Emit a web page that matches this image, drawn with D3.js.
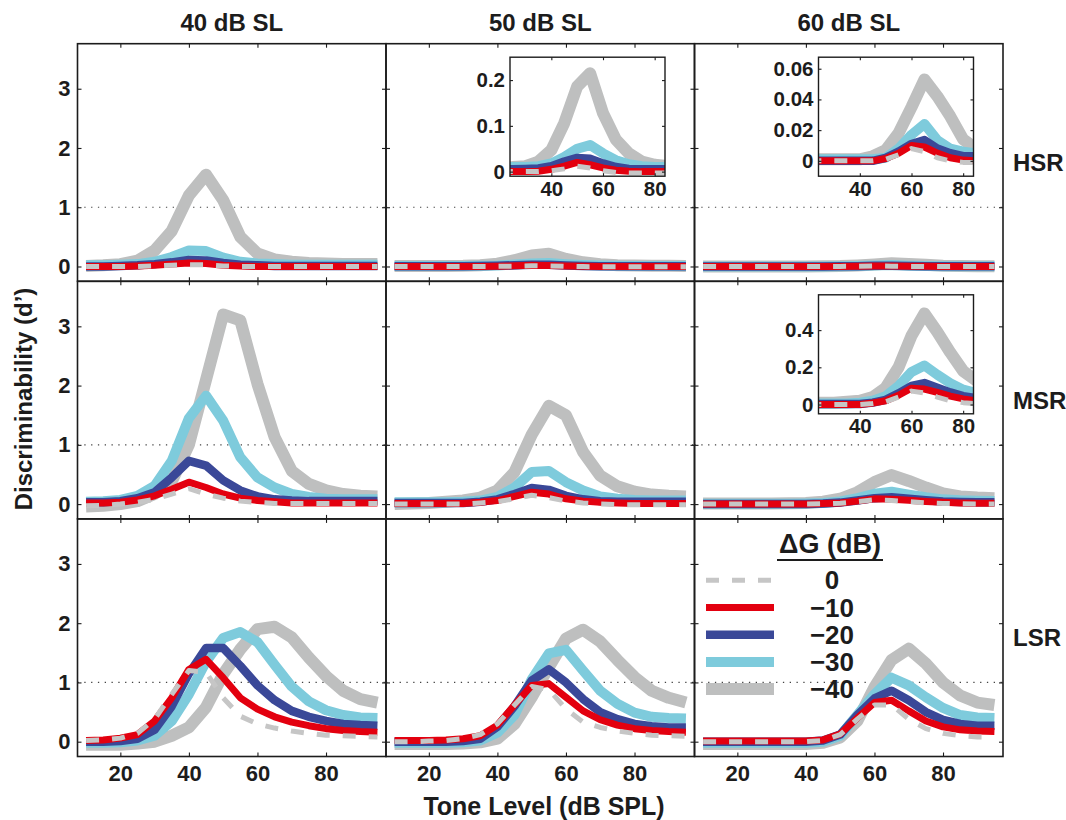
<!doctype html>
<html>
<head>
<meta charset="utf-8">
<title>Discriminability vs tone level</title>
<script src="https://cdn.jsdelivr.net/npm/d3@7"></script>
<style>
  body { margin: 0; background: #fff; }
  svg { display: block; font-family: "Liberation Sans", Arial, Helvetica, sans-serif; font-weight: bold; }
</style>
</head>
<body>
<svg id="chart"></svg>
<script>
// tone levels (dB SPL), shared by every curve
const levels = [10, 15, 20, 25, 30, 35, 40, 45, 50, 55, 60, 65, 70, 75, 80, 85, 90, 95];
const slLabels = ["40 dB SL", "50 dB SL", "60 dB SL"];
const fiberLabels = ["HSR", "MSR", "LSR"];
const gainLabels = ["0", "\u221210", "\u221220", "\u221230", "\u221240"];
const yTicks = [0, 1, 2, 3];
const xTicks = [20, 40, 60, 80];

// each panel: [dG=0, -10, -20, -30, -40]
const hsr40 = [
  [0, 0, 0, 0, 0.01, 0.02, 0.03, 0.03, 0.01, 0, 0, 0, 0, 0, 0, 0, 0, 0],
  [0, 0, 0, 0.01, 0.02, 0.04, 0.06, 0.05, 0.02, 0.01, 0, 0, 0, 0, 0, 0, 0, 0],
  [0, 0, 0.01, 0.02, 0.04, 0.07, 0.11, 0.1, 0.06, 0.03, 0.02, 0.01, 0.01, 0.01, 0.01, 0.01, 0.01, 0.01],
  [0.02, 0.02, 0.03, 0.04, 0.08, 0.16, 0.27, 0.26, 0.15, 0.08, 0.05, 0.04, 0.03, 0.03, 0.03, 0.03, 0.03, 0.03],
  [0.01, 0.02, 0.04, 0.1, 0.27, 0.6, 1.2, 1.55, 1.12, 0.5, 0.22, 0.12, 0.08, 0.06, 0.05, 0.04, 0.04, 0.04]
];
const hsr50 = [
  [0, 0, 0, 0, 0, 0, 0.002, 0.006, 0.012, 0.008, 0.002, -0.002, -0.003, -0.003, -0.003, -0.003, -0.003, -0.003],
  [0, 0, 0, 0, 0, 0.001, 0.005, 0.012, 0.02, 0.015, 0.008, 0.003, 0.001, 0, 0, 0, 0, 0],
  [0.005, 0.005, 0.005, 0.005, 0.006, 0.007, 0.012, 0.022, 0.03, 0.028, 0.018, 0.01, 0.006, 0.005, 0.005, 0.005, 0.005, 0.005],
  [0.01, 0.01, 0.01, 0.01, 0.01, 0.012, 0.018, 0.032, 0.05, 0.058, 0.04, 0.025, 0.016, 0.012, 0.01, 0.01, 0.01, 0.01],
  [0.008, 0.008, 0.009, 0.01, 0.012, 0.022, 0.047, 0.106, 0.186, 0.215, 0.128, 0.07, 0.04, 0.022, 0.015, 0.012, 0.011, 0.01]
];
const hsr60 = [
  [0, 0, 0, 0, 0, 0, 0, 0, 0.001, 0.004, 0.008, 0.006, 0.002, 0, -0.001, -0.001, -0.001, -0.001],
  [0, 0, 0, 0, 0, 0, 0, 0, 0.0015, 0.005, 0.01, 0.009, 0.005, 0.002, 0.0005, 0, 0, 0],
  [0, 0, 0, 0, 0, 0, 0, 0, 0.002, 0.006, 0.011, 0.0135, 0.008, 0.005, 0.003, 0.003, 0.003, 0.003],
  [0.001, 0.001, 0.001, 0.001, 0.001, 0.001, 0.001, 0.001, 0.002, 0.008, 0.017, 0.024, 0.0135, 0.008, 0.006, 0.005, 0.005, 0.005],
  [0.001, 0.001, 0.001, 0.001, 0.001, 0.001, 0.001, 0.003, 0.007, 0.018, 0.035, 0.053, 0.042, 0.029, 0.014, 0.008, 0.006, 0.005]
];
const msr40 = [
  [-0.03, -0.02, 0, 0.03, 0.08, 0.17, 0.26, 0.17, 0.1, 0.05, 0.03, 0.01, 0.01, 0.01, 0.01, 0.01, 0.01, 0.01],
  [0.02, 0.02, 0.03, 0.07, 0.14, 0.25, 0.37, 0.28, 0.17, 0.1, 0.06, 0.04, 0.02, 0.02, 0.02, 0.02, 0.02, 0.02],
  [0.03, 0.03, 0.05, 0.1, 0.2, 0.45, 0.73, 0.65, 0.4, 0.23, 0.13, 0.08, 0.06, 0.05, 0.05, 0.05, 0.05, 0.05],
  [0.04, 0.05, 0.07, 0.14, 0.31, 0.73, 1.45, 1.83, 1.41, 0.79, 0.45, 0.28, 0.17, 0.12, 0.09, 0.08, 0.08, 0.08],
  [-0.04, -0.03, 0, 0.05, 0.17, 0.38, 1.0, 2.1, 3.2, 3.1, 2.03, 1.13, 0.56, 0.34, 0.23, 0.17, 0.14, 0.13]
];
const msr50 = [
  [0, 0, 0, 0, 0, 0.02, 0.04, 0.09, 0.15, 0.11, 0.05, 0.02, 0, -0.01, -0.01, -0.01, -0.01, -0.01],
  [0.01, 0.01, 0.01, 0.01, 0.01, 0.03, 0.06, 0.13, 0.2, 0.17, 0.09, 0.05, 0.03, 0.02, 0.01, 0.01, 0.01, 0.01],
  [0.02, 0.02, 0.02, 0.02, 0.02, 0.04, 0.08, 0.17, 0.27, 0.24, 0.14, 0.08, 0.05, 0.04, 0.04, 0.04, 0.04, 0.04],
  [0.03, 0.03, 0.03, 0.03, 0.04, 0.06, 0.12, 0.28, 0.54, 0.56, 0.37, 0.23, 0.13, 0.09, 0.07, 0.06, 0.06, 0.06],
  [0, 0.01, 0.02, 0.04, 0.06, 0.11, 0.23, 0.54, 1.17, 1.66, 1.5, 0.88, 0.48, 0.3, 0.21, 0.16, 0.14, 0.13]
];
const msr60 = [
  [0, 0, 0, 0, 0, 0, 0, 0.005, 0.015, 0.04, 0.072, 0.062, 0.04, 0.02, 0.01, 0.005, 0.003, 0.003],
  [0, 0, 0, 0, 0, 0, 0, 0.008, 0.02, 0.05, 0.088, 0.083, 0.065, 0.045, 0.03, 0.02, 0.015, 0.015],
  [0.003, 0.003, 0.003, 0.003, 0.003, 0.003, 0.003, 0.01, 0.025, 0.06, 0.1, 0.115, 0.09, 0.065, 0.045, 0.035, 0.03, 0.03],
  [0.005, 0.005, 0.005, 0.005, 0.005, 0.005, 0.01, 0.02, 0.045, 0.1, 0.175, 0.21, 0.16, 0.115, 0.08, 0.063, 0.055, 0.05],
  [0.01, 0.01, 0.01, 0.01, 0.01, 0.015, 0.02, 0.04, 0.09, 0.2, 0.37, 0.49, 0.39, 0.28, 0.18, 0.13, 0.11, 0.1]
];
const lsr40 = [
  [0.02, 0.03, 0.06, 0.14, 0.38, 0.8, 1.2, 1.17, 0.74, 0.43, 0.3, 0.23, 0.18, 0.14, 0.11, 0.1, 0.09, 0.08],
  [0.02, 0.03, 0.06, 0.12, 0.35, 0.74, 1.22, 1.39, 1.08, 0.74, 0.55, 0.42, 0.33, 0.27, 0.22, 0.19, 0.17, 0.16],
  [0, 0, 0.01, 0.05, 0.2, 0.6, 1.15, 1.58, 1.58, 1.28, 0.95, 0.7, 0.52, 0.42, 0.35, 0.3, 0.28, 0.27],
  [-0.02, -0.02, -0.01, 0.02, 0.1, 0.35, 0.8, 1.35, 1.75, 1.85, 1.68, 1.3, 0.93, 0.68, 0.53, 0.45, 0.41, 0.4],
  [-0.05, -0.05, -0.05, -0.03, 0, 0.1, 0.24, 0.58, 1.14, 1.56, 1.9, 1.94, 1.76, 1.42, 1.11, 0.86, 0.72, 0.66]
];
const lsr50 = [
  [0, 0, 0.01, 0.02, 0.05, 0.12, 0.3, 0.62, 0.93, 0.88, 0.55, 0.33, 0.24, 0.18, 0.14, 0.11, 0.1, 0.09],
  [0.02, 0.02, 0.02, 0.03, 0.05, 0.1, 0.28, 0.62, 0.95, 0.98, 0.75, 0.52, 0.37, 0.28, 0.22, 0.19, 0.17, 0.16],
  [0, 0, 0, 0, 0.01, 0.05, 0.25, 0.6, 1.03, 1.22, 1.0, 0.72, 0.5, 0.38, 0.3, 0.26, 0.24, 0.24],
  [-0.02, -0.02, -0.02, -0.02, -0.01, 0.02, 0.15, 0.45, 1.05, 1.49, 1.55, 1.2, 0.86, 0.64, 0.49, 0.42, 0.4, 0.39],
  [-0.04, -0.04, -0.04, -0.04, -0.03, -0.01, 0.05, 0.3, 0.75, 1.26, 1.74, 1.89, 1.69, 1.38, 1.09, 0.86, 0.74, 0.66]
];
const lsr60 = [
  [0, 0, 0, 0, 0, 0, 0, 0.02, 0.12, 0.38, 0.62, 0.62, 0.38, 0.22, 0.14, 0.1, 0.08, 0.08],
  [0.01, 0.01, 0.01, 0.01, 0.01, 0.01, 0.01, 0.03, 0.13, 0.4, 0.66, 0.7, 0.52, 0.35, 0.25, 0.2, 0.18, 0.17],
  [0, 0, 0, 0, 0, 0, 0, 0.02, 0.12, 0.45, 0.73, 0.86, 0.7, 0.5, 0.37, 0.3, 0.27, 0.27],
  [-0.02, -0.02, -0.02, -0.02, -0.02, -0.02, -0.02, 0, 0.1, 0.45, 0.8, 1.08, 0.95, 0.75, 0.57, 0.45, 0.41, 0.4],
  [-0.04, -0.04, -0.04, -0.04, -0.04, -0.04, -0.04, -0.02, 0.07, 0.35, 0.92, 1.38, 1.57, 1.32, 1.0, 0.78, 0.66, 0.62]
];

// inset axes: which panel, y range and tick labels
const insetPanels = [[0, 1], [0, 2], [1, 2]];
const insetYDomains = [[-0.01, 0.25], [-0.01, 0.0675], [-0.05, 0.59]];
const insetYTicks = [[0, 0.1, 0.2], [0, 0.02, 0.04, 0.06], [0, 0.2, 0.4]];
const insetXTicks = [40, 60, 80];

const panels = [
  [hsr40, hsr50, hsr60],
  [msr40, msr50, msr60],
  [lsr40, lsr50, lsr60]
];

// styles
const gainColors = ["#c6c6c6", "#e3000f", "#3a4898", "#7ecbdc", "#bebfbf"];
const gainWidths = [5, 7, 8.5, 10, 12];
const ink = "#1c1c1c";

const W = 1066, H = 820;
const plotLeft = 77.5, plotTop = 43.7, pw = 308.5, ph = 237.6;

const svg = d3.select("#chart").attr("width", W).attr("height", H);
const defs = svg.append("defs");

const x = d3.scaleLinear().domain([7.5, 97.5]).range([0, pw]);
const y = d3.scaleLinear().domain([-0.25, 3.76]).range([ph, 0]);

function drawSeries(g, series, xs, ys) {
    const lineGen = d3.line().x((d, i) => xs(levels[i])).y(d => ys(d));
    g.selectAll("path")
        .data([4, 3, 2, 1, 0])
        .join("path")
        .attr("fill", "none")
        .attr("stroke", k => gainColors[k])
        .attr("stroke-width", k => gainWidths[k])
        .attr("stroke-dasharray", k => k === 0 ? "13 13" : null)
        .attr("stroke-linejoin", "round")
        .attr("d", k => lineGen(series[k]));
}

function styleAxis(sel, size) {
    sel.select(".domain").remove();
    sel.attr("font-family", null).attr("font-size", size).attr("color", ink);
    sel.selectAll("line").attr("stroke-width", 1.1);
}

function addAxes(g, xs, ys, w, h, xT, yT, opts) {
    const tl = opts.tick;
    g.append("g")
        .call(d3.axisLeft(ys).tickValues(yT).tickSizeInner(-tl).tickSizeOuter(0)
            .tickPadding(opts.padY).tickFormat(opts.yLabels ? opts.yFormat : ""))
        .call(s => styleAxis(s, opts.size));
    g.append("g").attr("transform", `translate(${w},0)`)
        .call(d3.axisRight(ys).tickValues(yT).tickSizeInner(-tl).tickSizeOuter(0).tickFormat(""))
        .call(s => styleAxis(s, opts.size));
    g.append("g").attr("transform", `translate(0,${h})`)
        .call(d3.axisBottom(xs).tickValues(xT).tickSizeInner(-tl).tickSizeOuter(0)
            .tickPadding(opts.padX).tickFormat(opts.xLabels ? d3.format("d") : ""))
        .call(s => styleAxis(s, opts.size));
    g.append("g")
        .call(d3.axisTop(xs).tickValues(xT).tickSizeInner(-tl).tickSizeOuter(0).tickFormat(""))
        .call(s => styleAxis(s, opts.size));
    g.append("rect")
        .attr("width", w).attr("height", h)
        .attr("fill", "none").attr("stroke", ink).attr("stroke-width", opts.frame);
}

panels.forEach((row, r) => row.forEach((series, c) => {
    const g = svg.append("g").attr("transform", `translate(${plotLeft + c * pw},${plotTop + r * ph})`);
    const clipId = `clip-${r}-${c}`;
    defs.append("clipPath").attr("id", clipId)
        .append("rect").attr("width", pw).attr("height", ph);

    g.append("line")
        .attr("x1", 0).attr("x2", pw)
        .attr("y1", y(1)).attr("y2", y(1))
        .attr("stroke", "#444").attr("stroke-width", 1.2)
        .attr("stroke-dasharray", "1.3 5.5");

    drawSeries(g.append("g").attr("clip-path", `url(#${clipId})`), series, x, y);

    addAxes(g, x, y, pw, ph, xTicks, yTicks, {
        tick: 4, size: 22, padY: 7, padX: 9, frame: 1.6,
        yLabels: c === 0, yFormat: d3.format("d"),
        xLabels: r === 2
    });
}));

// insets
const insetW = 155, insetH = 119, insetDX = 124, insetDY = 13.5;
const ix = d3.scaleLinear().domain([24, 84]).range([0, insetW]);

insetPanels.forEach(([r, c], n) => {
    const g = svg.append("g")
        .attr("transform", `translate(${plotLeft + c * pw + insetDX},${plotTop + r * ph + insetDY})`);
    const iy = d3.scaleLinear().domain(insetYDomains[n]).range([insetH, 0]);
    const clipId = `inset-clip-${n}`;
    defs.append("clipPath").attr("id", clipId)
        .append("rect").attr("width", insetW).attr("height", insetH);

    g.append("rect").attr("width", insetW).attr("height", insetH).attr("fill", "#fff");
    drawSeries(g.append("g").attr("clip-path", `url(#${clipId})`), panels[r][c], ix, iy);

    addAxes(g, ix, iy, insetW, insetH, insetXTicks, insetYTicks[n], {
        tick: 3, size: 20.5, padY: 5, padX: 5, frame: 1.4,
        yLabels: true, yFormat: d => String(d),
        xLabels: true
    });
});

// column titles
svg.append("g").selectAll("text")
    .data(slLabels)
    .join("text")
    .attr("x", (d, i) => plotLeft + i * pw + pw / 2)
    .attr("y", 30.5)
    .attr("text-anchor", "middle")
    .attr("font-size", 24)
    .attr("fill", ink)
    .text(d => d);

// row labels
svg.append("g").selectAll("text")
    .data(fiberLabels)
    .join("text")
    .attr("x", 1013)
    .attr("y", (d, i) => plotTop + i * ph + ph / 2 + 8.5)
    .attr("font-size", 24)
    .attr("fill", ink)
    .text(d => d);

svg.append("text")
    .attr("transform", "translate(32,399) rotate(-90)")
    .attr("text-anchor", "middle")
    .attr("font-size", 24)
    .attr("fill", ink)
    .text("Discriminability (d\u2019)");

svg.append("text")
    .attr("x", 544).attr("y", 815)
    .attr("text-anchor", "middle")
    .attr("font-size", 25)
    .attr("fill", ink)
    .text("Tone Level (dB SPL)");

// legend
const legend = svg.append("g");
legend.append("text")
    .attr("x", 830).attr("y", 553)
    .attr("text-anchor", "middle")
    .attr("font-size", 27)
    .attr("fill", ink)
    .text("\u0394G (dB)");
legend.append("line")
    .attr("x1", 777).attr("x2", 883).attr("y1", 560).attr("y2", 560)
    .attr("stroke", ink).attr("stroke-width", 2);

const item = legend.selectAll("g.item")
    .data(gainLabels)
    .join("g")
    .attr("class", "item")
    .attr("transform", (d, i) => `translate(0,${580.3 + i * 27.2})`);
item.append("line")
    .attr("x1", 706).attr("x2", 774)
    .attr("stroke", (d, i) => gainColors[i])
    .attr("stroke-width", (d, i) => gainWidths[i])
    .attr("stroke-dasharray", (d, i) => i === 0 ? "13 13" : null);
item.append("text")
    .attr("x", 832).attr("y", 9)
    .attr("text-anchor", "middle")
    .attr("font-size", 26)
    .attr("fill", ink)
    .text(d => d);
</script>
</body>
</html>
